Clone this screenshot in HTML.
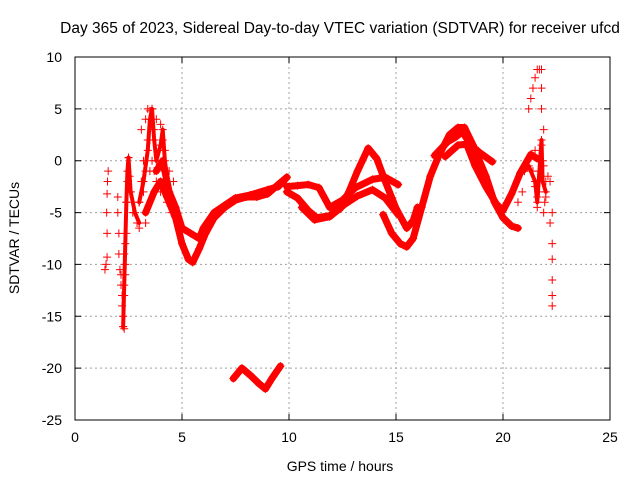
<!DOCTYPE html>
<html><head><meta charset="utf-8"><style>
body{margin:0;background:#fff}
svg text{font-family:"Liberation Sans",sans-serif;font-size:14px;fill:#000}
</style></head><body>
<svg id="chart" width="640" height="480" viewBox="0 0 640 480">
<text x="340" y="33" text-anchor="middle" style="font-size:15.5px">Day 365 of 2023, Sidereal Day-to-day VTEC variation (SDTVAR) for receiver ufcd</text>
<text x="340" y="471" text-anchor="middle">GPS time / hours</text>
<text transform="translate(19,238) rotate(-90)" text-anchor="middle">SDTVAR / TECUs</text>
<g id="grid"></g><g id="marks"></g>
<rect x="75" y="57" width="535" height="363" fill="none" stroke="#000" stroke-width="1"/>
</svg>
<script>
const xTicks=[0,5,10,15,20,25];
const yTicks=[10,5,0,-5,-10,-15,-20,-25];
const trackA=[[3.3,-5],[3.7,-3],[4.0,-2],[4.3,-3.5],[4.7,-5.5],[5.0,-8],[5.3,-9.5],[5.5,-9.8],[5.8,-8.5],[6.1,-7],[6.5,-5.5],[7,-4.5],[7.5,-3.8],[8,-3.5],[8.5,-3.5],[9,-3.2],[9.5,-2.3],[9.9,-1.6]];
const trackB=[[3.8,-1],[4.1,0],[4.4,-3],[4.7,-4.5],[5.0,-6.5],[5.4,-7],[5.8,-7.5],[6.0,-6.5],[6.5,-5],[7,-4.3],[7.5,-3.6],[8.2,-3.3],[9,-2.8],[9.5,-2.5],[9.9,-1.6]];
const trackC=[[9.9,-3],[10.4,-3.6],[10.9,-4.8],[11.3,-5.5],[11.9,-5.3],[12.4,-4.6],[12.8,-3],[13.2,-1],[13.7,1.2],[14.1,0.2],[14.5,-2],[15.0,-4.6],[15.5,-6.5],[15.8,-5.8],[16.0,-4.5]];
const trackD=[[14.4,-5.2],[14.8,-7],[15.2,-8],[15.5,-8.3],[15.8,-7.5],[16.2,-4.5],[16.6,-1.5],[17,0.5],[17.5,2.5],[17.9,3.2],[18.2,3.2],[18.6,1.5],[19.2,-1.5],[19.6,-4],[20,-5.5],[20.4,-6.3],[20.7,-6.5]];
const trackE=[[9.9,-2.5],[10.4,-2.4],[10.9,-2.3],[11.4,-2.6],[11.9,-4.5],[12.5,-3.8],[13.1,-2.6],[13.9,-1.8],[14.5,-1.6],[15.1,-2.3]];
const trackF=[[10.6,-4.5],[11.2,-5.7],[11.9,-5.4],[12.6,-4.2],[13.2,-3.4],[13.9,-2.8],[14.5,-3.6],[15.1,-5.2]];
const trackG=[[16.8,0.5],[17.4,1.8],[17.8,2.3],[18.1,2.8],[18.5,1.5],[18.9,0.8],[19.5,-0.1]];
const trackH=[[17.3,0.4],[17.9,1.5],[18.3,1.6],[18.7,-0.5],[19.2,-2.5],[19.7,-4.2],[20.0,-4.8],[20.4,-3.2],[20.8,-1.2],[21.3,0.6],[21.6,0.2]];
const trackI=[[7.4,-21],[7.8,-20],[8.2,-20.7],[8.6,-21.5],[8.9,-22],[9.2,-21],[9.6,-19.8]];
const trackJ=[[3.0,-4],[3.2,-2],[3.4,1],[3.5,4],[3.6,5],[3.7,2],[3.8,0],[4.0,1.5],[4.1,3],[4.2,0],[4.4,-3]];
const trackK=[[2.25,-16],[2.3,-12],[2.35,-8],[2.4,-4],[2.45,-1],[2.5,0.3],[2.6,-3],[2.8,-5],[3.0,-6]];
const trackL=[[21.0,-1],[21.2,-0.5],[21.5,-2],[21.6,-4],[21.7,-1],[21.8,2],[21.85,-2],[22.0,-3]];
const scatter=[[1.4,-10.5],[1.45,-10],[1.5,-9.3],[1.5,-7],[1.48,-5],[1.5,-3.2],[1.52,-2],[1.55,-1],
[2.0,-3.5],[2.0,-5],[2.05,-7],[2.05,-9],[2.1,-10.5],[2.15,-12],[2.2,-14],[2.25,-16],[2.3,-16.2],[2.3,-13],[2.35,-10],[2.4,-7],[2.4,-4],[2.45,-2],[2.5,0.3],[2.55,-1.5],[2.6,-3],[2.7,-5],[2.9,-6],[3.0,-4],[3.1,-2],[3.2,0],[3.1,3],[3.3,4],[3.4,5],[3.5,4.8],[3.6,5],[3.5,2],[3.6,0],[3.7,-1],[3.8,-2],[3.9,1],[4.0,3.5],[4.1,2],[4.2,-1],[4.3,-4],[4.5,-5],[3.3,-6],[3.0,-6.5],
[2.15,-11],[2.2,-13],[2.25,-15],[2.3,-9],[2.35,-11],[3.2,-3],[3.3,-1],[3.4,2],[3.5,-1],[3.7,3],[3.8,4],[4.0,-3],[4.2,1],[4.4,-1],[4.6,-2],
[20.7,-4],[20.9,-3],[21.0,-1],[21.2,5],[21.3,6],[21.4,7],[21.5,8],[21.6,8.8],[21.7,8.8],[21.8,8.8],[21.8,7],[21.8,5],[21.9,3],[21.8,1.5],[21.9,-0.5],[22.0,-2],[21.7,-3],[21.6,-4.5],[21.9,-5],[22.0,-3.5],[22.1,-1.5],[22.2,-2],[22.3,-5],[22.2,-6],[22.3,-8],[22.3,-9.5],[22.3,-11.5],[22.3,-13],[22.3,-14],[21.5,-2.5],[21.4,-1],[21.5,1],[21.85,0],[21.95,-4],[21.6,-3.5]];
const tracks=[trackA,trackB,trackC,trackD,trackE,trackF,trackG,trackH,trackI,trackJ,trackK,trackL];
const NS="http://www.w3.org/2000/svg";
const X=h=>75+h*535/25, Y=v=>57+(10-v)*363/35;
const grid=document.getElementById('grid'), marks=document.getElementById('marks');
function mk(tag,attrs,parent){const e=document.createElementNS(NS,tag);for(const k in attrs)e.setAttribute(k,attrs[k]);parent.appendChild(e);return e;}
xTicks.forEach(t=>{
 if(t>0&&t<25){const l=mk('line',{x1:X(t),x2:X(t),y1:57,y2:420,stroke:'#a0a0a0','stroke-dasharray':'2,3'},grid);
 
 }
 const tk=mk('path',{d:`M${X(t)},420v-6M${X(t)},57v6`,stroke:'#000'},grid);
 
 
 const tx=mk('text',{x:X(t),y:442,'text-anchor':'middle'},grid);tx.textContent=t;
 
 
});
yTicks.forEach(t=>{
 if(t<10&&t>-25){const l=mk('line',{x1:75,x2:610,y1:Y(t),y2:Y(t),stroke:'#a0a0a0','stroke-dasharray':'2,3'},grid);
 
 }
 const tk=mk('path',{d:`M75,${Y(t)}h6M610,${Y(t)}h-6`,stroke:'#000'},grid);
 
 
 const tx=mk('text',{x:62,y:Y(t)+5,'text-anchor':'end'},grid);tx.textContent=t;
 
 
});
tracks.forEach((tr,i)=>{
 const p=mk('polyline',{points:tr.map(d=>X(d[0])+','+Y(d[1])).join(' '),fill:'none',stroke:'#f00','stroke-width':i>=9?4:7,'stroke-linejoin':'round','stroke-linecap':'round'},marks);
 
 
 tr.forEach(d=>{const m=mk('path',{d:`M${X(d[0])-4},${Y(d[1])}h8M${X(d[0])},${Y(d[1])-4}v8`,stroke:'#f00'},marks);
 
 });
});
scatter.forEach(d=>{const m=mk('path',{d:`M${X(d[0])-4},${Y(d[1])}h8M${X(d[0])},${Y(d[1])-4}v8`,stroke:'#f00'},marks);
 
 });
</script>
</body></html>
